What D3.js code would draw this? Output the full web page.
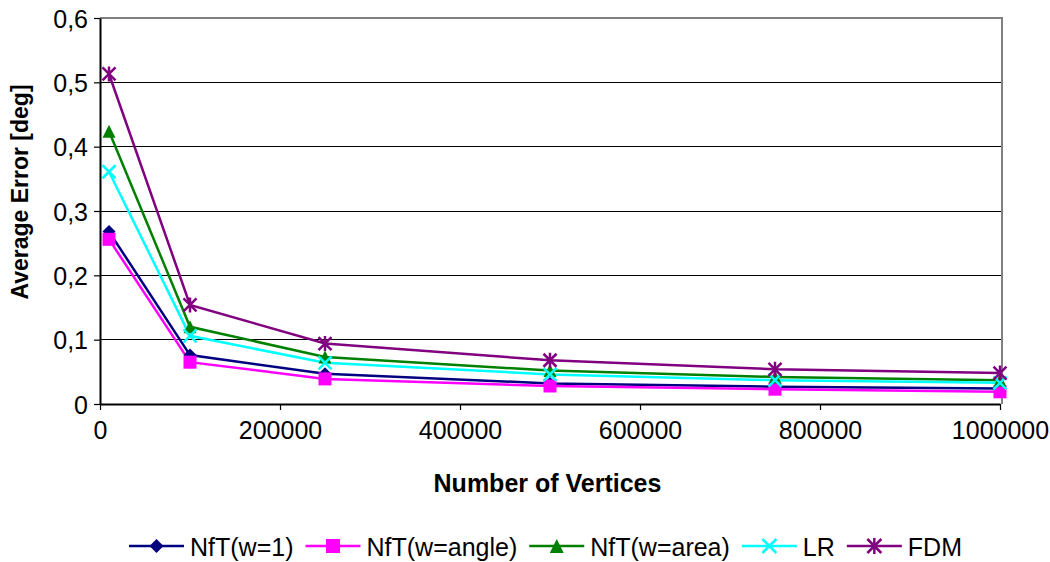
<!DOCTYPE html>
<html><head><meta charset="utf-8">
<script src="https://cdn.jsdelivr.net/npm/d3@7"></script>
<style>body{margin:0;background:#fff}svg{display:block}text{font-family:"Liberation Sans",Arial,sans-serif}</style>
</head><body>
<svg id="c" width="1050" height="562"></svg>
<script>
const xValues = [10000, 100000, 250000, 500000, 750000, 1000000];
const seriesNames = ["NfT(w=1)", "NfT(w=angle)", "NfT(w=area)", "LR", "FDM"];
const nftW1 = [0.268, 0.076, 0.047, 0.032, 0.027, 0.024];
const nftAngle = [0.256, 0.065, 0.039, 0.028, 0.023, 0.019];
const nftArea = [0.424, 0.120, 0.073, 0.052, 0.042, 0.037];
const lrValues = [0.361, 0.106, 0.064, 0.046, 0.037, 0.033];
const fdmValues = [0.513, 0.154, 0.094, 0.068, 0.054, 0.048];
const yTicks = [0, 0.1, 0.2, 0.3, 0.4, 0.5, 0.6];
const xTicks = [0, 200000, 400000, 600000, 800000, 1000000];
const colors = ["#000080", "#FF00FF", "#008000", "#00FFFF", "#800080"];
const markers = ["diamond", "square", "triangle", "x", "star"];

const allValues = [nftW1, nftAngle, nftArea, lrValues, fdmValues];
const svg = d3.select("#c");
const L = 100, R = 1000, T = 18, B = 404;
const x = d3.scaleLinear().domain([0, 1000000]).range([L, R]);
const y = d3.scaleLinear().domain([0, 0.6]).range([B, T]);
const fmtY = d => d === 0 ? "0" : d3.format(".1f")(d).replace(".", ",");

// gridlines
svg.append("g").selectAll("line").data(yTicks.filter(d => d > 0 && d < 0.6)).join("line")
  .attr("x1", L).attr("x2", R + 2).attr("y1", d => y(d)).attr("y2", d => y(d))
  .attr("stroke", "#000").attr("stroke-width", 1).attr("shape-rendering", "crispEdges");
// gray top/right border
svg.append("path").attr("d", `M${L},${T}H${R+2}V${B}`).attr("fill", "none")
  .attr("stroke", "#808080").attr("stroke-width", 2).attr("shape-rendering", "crispEdges");

// axes
const yAxis = d3.axisLeft(y).tickValues(yTicks).tickFormat(fmtY).tickSizeInner(6).tickSizeOuter(0).tickPadding(6);
const gy = svg.append("g").attr("transform", `translate(${L},0)`).call(yAxis);
const xAxis = d3.axisBottom(x).tickValues(xTicks).tickFormat(d3.format("d")).tickSizeInner(6).tickSizeOuter(0).tickPadding(8);
const gx = svg.append("g").attr("transform", `translate(0,${B})`).call(xAxis);
[gx, gy].forEach(g => {
  g.select(".domain").attr("stroke", "#000").attr("stroke-width", 2);
  g.selectAll(".tick line").attr("stroke", "#000").attr("stroke-width", 1.2);
  g.selectAll("text").attr("fill", "#000").style("font-size", "25px").style("font-family", "'Liberation Sans',Arial,sans-serif");
});
gx.selectAll(".tick text").attr("dy", "0.85em");
gy.selectAll(".tick text").attr("dy", "0.36em");

// axis titles
svg.append("text").attr("x", 547.5).attr("y", 492).attr("text-anchor", "middle")
  .style("font-size", "25px").style("font-weight", "bold").text("Number of Vertices");
svg.append("text").attr("transform", `translate(28,192) rotate(-90)`).attr("text-anchor", "middle")
  .style("font-size", "23px").style("font-weight", "bold").text("Average Error [deg]");

function drawMarker(g, type, color, s) {
  const h = s / 2;
  if (type === "diamond") g.append("path").attr("d", `M0,${-h}L${h},0L0,${h}L${-h},0Z`).attr("fill", color);
  else if (type === "square") g.append("rect").attr("x", -h).attr("y", -h).attr("width", s).attr("height", s).attr("fill", color);
  else if (type === "triangle") g.append("path").attr("d", `M0,${-h}L${h},${h}L${-h},${h}Z`).attr("fill", color);
  else if (type === "x") g.append("path").attr("d", `M${-h},${-h}L${h},${h}M${-h},${h}L${h},${-h}`).attr("stroke", color).attr("stroke-width", 2.5);
  else if (type === "star") g.append("path").attr("d", `M${-h},${-h}L${h},${h}M${-h},${h}L${h},${-h}M0,${-h-1}L0,${h+1}`).attr("stroke", color).attr("stroke-width", 2.5);
}

const line = d3.line().x((d, i) => x(xValues[i])).y(d => y(d));
allValues.forEach((vals, si) => {
  svg.append("path").datum(vals).attr("d", line).attr("fill", "none")
    .attr("stroke", colors[si]).attr("stroke-width", 2.5);
});
allValues.forEach((vals, si) => {
  vals.forEach((v, i) => {
    const g = svg.append("g").attr("transform", `translate(${x(xValues[i])},${y(v)})`);
    drawMarker(g, markers[si], colors[si], 13);
  });
});

// legend
const lg = svg.append("g");
let cx = 129;
const ly = 546;
seriesNames.forEach((name, si) => {
  lg.append("line").attr("x1", cx).attr("x2", cx + 55).attr("y1", ly).attr("y2", ly)
    .attr("stroke", colors[si]).attr("stroke-width", 2.5);
  const g = lg.append("g").attr("transform", `translate(${cx + 27.5},${ly})`);
  drawMarker(g, markers[si], colors[si], 14);
  const t = lg.append("text").attr("x", cx + 61).attr("y", 556)
    .style("font-size", "25px").text(name);
  cx += 61 + t.node().getComputedTextLength() + 12;
});
</script>
</body></html>
